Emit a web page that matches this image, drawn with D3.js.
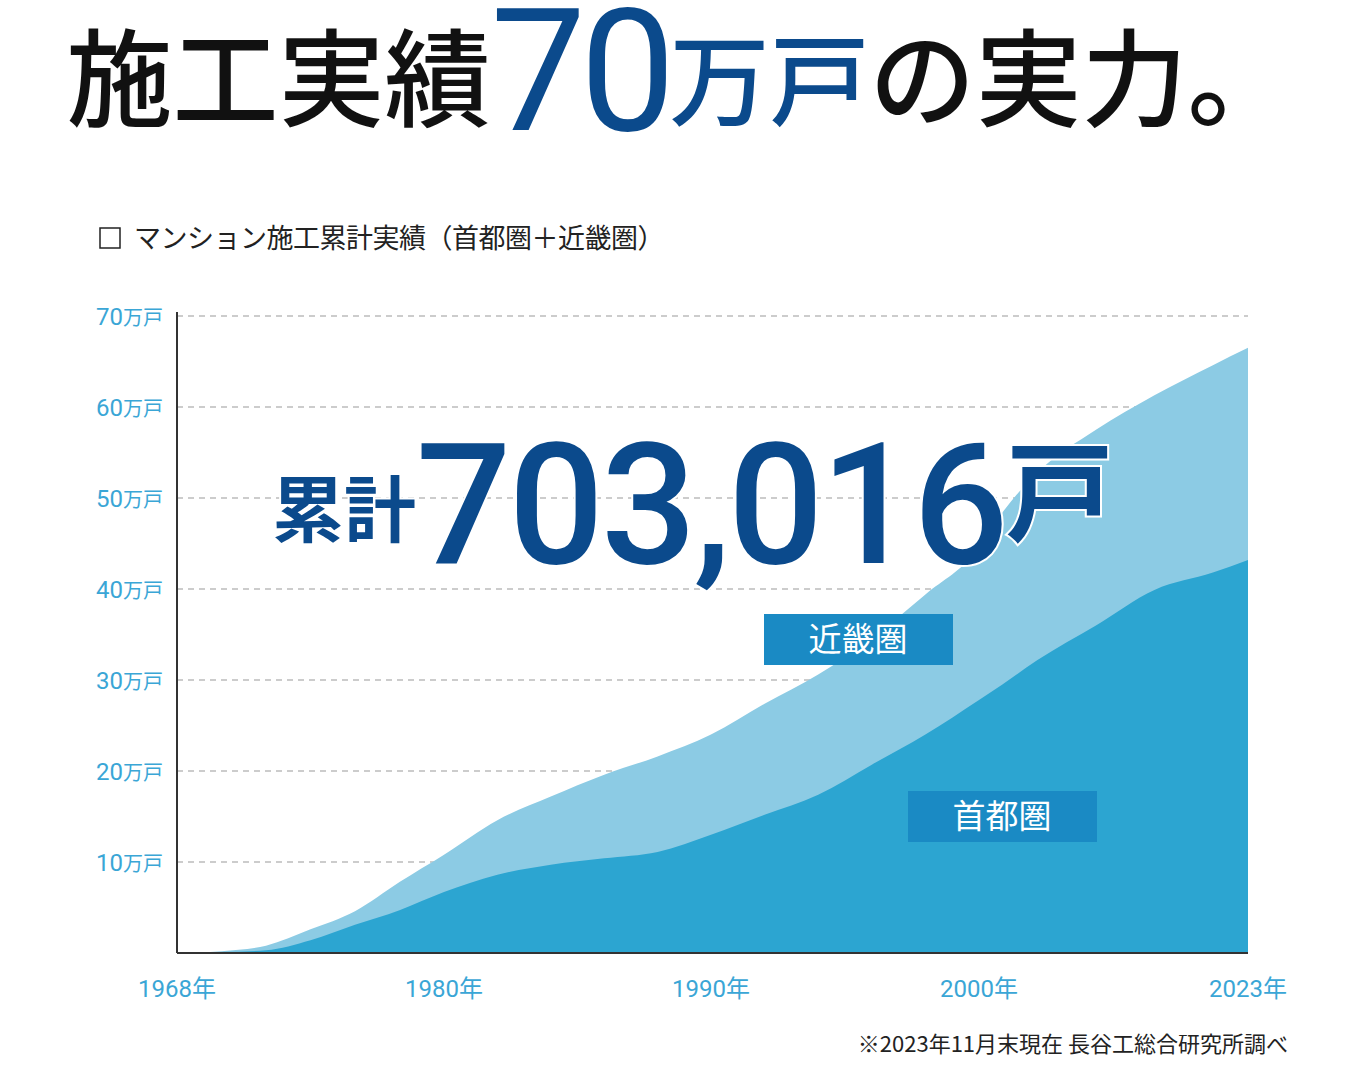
<!DOCTYPE html>
<html><head><meta charset="utf-8">
<script src="https://cdn.jsdelivr.net/npm/d3@7"></script>
<style>body{margin:0;background:#fff}svg{display:block;font-family:"Noto Sans CJK JP","Noto Sans",sans-serif}</style>
</head><body><div id="chart"></div>
<script>
// cumulative units, 万戸
const years = [1968,1970,1972,1974,1976,1978,1980,1982,1984,1986,1988,1990,1992,1994,1996,1998,2000,2002,2005,2010,2015,2020,2023];
const total = [0,0.2,0.8,2.6,4.6,7.8,10.8,14.6,17.2,19.6,21.6,24,27.4,30.6,34.6,39.4,44.5,48.4,52.8,57.5,61.3,64.6,66.5];
const shuto = [0,0.1,0.3,1.4,3.1,4.7,6.7,8.6,9.7,10.4,11.1,13,15.2,17.4,20.7,24,27.8,29.5,32.2,36,39.9,41.8,43.2];
const tickYears = [1968,1980,1990,2000,2023];
const yTicks = [10,20,30,40,50,60,70];

const svg = d3.select('#chart').append('svg').attr('width',1368).attr('height',1065);
const x = d3.scaleLinear().domain(tickYears).range([177,444,711,979,1248]);
const y = d3.scaleLinear().domain([0,70]).range([953,316]);

// title
const t = svg.append('text').attr('x',680).attr('y',118).attr('text-anchor','middle').attr('font-weight',500);
t.append('tspan').attr('font-size',106).attr('fill','#111').text('施工実績');
t.append('tspan').attr('font-size',170).attr('fill','#0b4a8c').attr('font-family','Roboto, sans-serif').attr('font-weight',400).attr('dy',12).attr('letter-spacing',-6).text('70');
t.append('tspan').attr('font-size',100).attr('fill','#0b4a8c').attr('dy',-12).text('万戸');
t.append('tspan').attr('font-size',106).attr('fill','#111').text('の実力。');

svg.append('rect').attr('x',100).attr('y',228).attr('width',20).attr('height',20).attr('fill','none').attr('stroke','#222').attr('stroke-width',1.5);
svg.append('text').attr('x',134).attr('y',248).attr('font-size',27).attr('fill','#222').attr('letter-spacing',-0.5).text('マンション施工累計実績（首都圏＋近畿圏）');

// grid
svg.append('g').selectAll('line').data(yTicks).join('line')
  .attr('x1',177).attr('x2',1248).attr('y1',d=>y(d)).attr('y2',d=>y(d))
  .attr('stroke','#999').attr('stroke-dasharray','6,5').attr('stroke-width',1.2);

const area = v => d3.area().x((d,i)=>x(years[i])).y0(y(0)).y1(d=>y(d)).curve(d3.curveMonotoneX)(v);
svg.append('path').attr('d',area(total)).attr('fill','#8ccbe4');
svg.append('path').attr('d',area(shuto)).attr('fill','#2ca5d1');

// axes
svg.append('line').attr('x1',177).attr('x2',177).attr('y1',312).attr('y2',953).attr('stroke','#333').attr('stroke-width',2);
svg.append('line').attr('x1',177).attr('x2',1248).attr('y1',953).attr('y2',953).attr('stroke','#333').attr('stroke-width',2);
svg.append('g').selectAll('text').data(yTicks).join('text')
  .attr('x',163).attr('y',d=>y(d)+9).attr('text-anchor','end').attr('fill','#3aa6d6')
  .html(d=>`<tspan font-size="24" font-family="Roboto, sans-serif">${d}</tspan><tspan font-size="20">万戸</tspan>`);
svg.append('g').selectAll('text').data(tickYears).join('text')
  .attr('x',d=>x(d)).attr('y',997).attr('text-anchor','middle').attr('fill','#3aa6d6').attr('font-size',24)
  .html(d=>`<tspan font-family="Roboto, sans-serif">${d}</tspan>年`);

// labels
[['近畿圏',764,614],['首都圏',908,791]].forEach(([s,lx,ly])=>{
  svg.append('rect').attr('x',lx).attr('y',ly).attr('width',189).attr('height',51).attr('fill','#1a8ac4');
  svg.append('text').attr('x',lx+94).attr('y',ly+37).attr('text-anchor','middle').attr('fill','#fff').attr('font-size',33).text(s);
});

const big = svg.append('text').attr('x',272).attr('y',563).attr('fill','#0b4a8c')
  .attr('stroke','#fff').attr('stroke-width',4).attr('paint-order','stroke').attr('font-weight',700);
big.append('tspan').attr('font-size',72).attr('dy',-27).text('累計');
big.append('tspan').attr('font-size',168).attr('dy',27).attr('font-family','Roboto, sans-serif').attr('font-weight',500).attr('letter-spacing',-3).text('703,016');
big.append('tspan').attr('font-size',108).attr('dy',-30).text('戸');

svg.append('text').attr('x',1288).attr('y',1052).attr('text-anchor','end').attr('font-size',22).attr('fill','#222')
  .text('※2023年11月末現在 長谷工総合研究所調べ');
</script></body></html>
